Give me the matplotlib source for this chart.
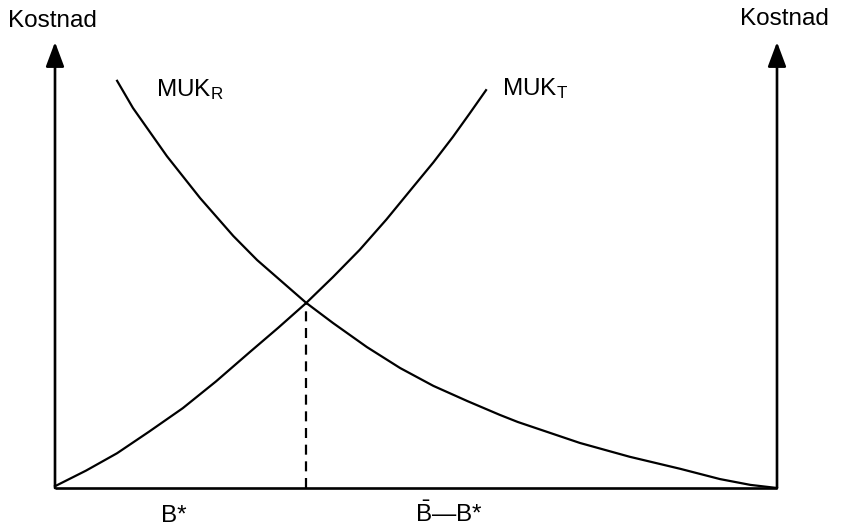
import matplotlib
matplotlib.use("Agg")
import matplotlib.pyplot as plt

plt.rcParams['font.family'] = ['Liberation Sans', 'DejaVu Sans']
plt.rcParams['mathtext.fontset'] = 'custom'
plt.rcParams['mathtext.rm'] = 'Liberation Sans'
plt.rcParams['mathtext.it'] = 'Liberation Sans:italic'

# mengde B (0..100) og kostnad (0..100), lest av bildet
muk_t_x = [0, 4.3, 8.6, 13.0, 17.7, 22.3, 27.0, 30.9, 34.8, 38.5, 42.2, 45.9, 49.6, 52.4, 55.1, 57.4, 59.7]
muk_t_y = [0.4, 3.9, 7.8, 12.6, 17.9, 23.9, 30.5, 35.9, 41.5, 47.3, 53.4, 60.2, 67.5, 73.0, 78.7, 83.9, 89.2]

muk_r_x = [8.6, 10.8, 15.5, 20.1, 24.7, 28.0, 34.8, 38.5, 43.2, 47.8, 52.4, 57.1, 61.6, 64.1,
           72.7, 79.6, 86.6, 92.1, 96.3, 100]
muk_r_y = [91.3, 85.2, 74.4, 65.0, 56.5, 51.1, 41.5, 37.0, 31.6, 26.9, 22.9, 19.5, 16.4, 14.8,
           10.1, 7.0, 4.3, 2.0, 0.7, 0]

b_star = 34.8
cost_star = 41.5

W, H = 843, 526
fig = plt.figure(figsize=(W / 100, H / 100), dpi=100)
ax = fig.add_axes([55 / W, 38 / H, 722 / W, 446 / H])
ax.set_xlim(0, 100)
ax.set_ylim(0, 100)
ax.axis('off')

lw_axis = 1.9
ax.plot([0, 100], [0, 0], color='black', lw=lw_axis, clip_on=False, solid_capstyle='butt')
for xa in (0, 100):
    ax.annotate('', xy=(xa, 100), xytext=(xa, 0),
                arrowprops=dict(arrowstyle='-|>,head_length=0.75,head_width=0.28',
                                mutation_scale=20, lw=lw_axis, color='black',
                                shrinkA=0, shrinkB=0),
                annotation_clip=False)

ax.plot(muk_t_x, muk_t_y, color='black', lw=1.6, clip_on=False, solid_joinstyle='round')
ax.plot(muk_r_x, muk_r_y, color='black', lw=1.6, clip_on=False, solid_joinstyle='round')
ax.plot([b_star, b_star], [0, cost_star], color='black', lw=1.6,
        linestyle=(0, (4.5, 3)), clip_on=False)

fs = 17.5
def txt(x, y, s, **kw):
    fig.text(x / W, 1 - y / H, s, fontsize=fs, va='baseline', **kw)

txt(8, 27, 'Kostnad')
txt(740, 25, 'Kostnad')
txt(156, 96, r'MUK$_{\mathrm{R}}$')
txt(502, 95, r'MUK$_{\mathrm{T}}$')
txt(161, 522, 'B*')
txt(415, 522, r'$\bar{\mathrm{B}}$—B*')

fig.savefig('out.png', dpi=100, facecolor='white')
